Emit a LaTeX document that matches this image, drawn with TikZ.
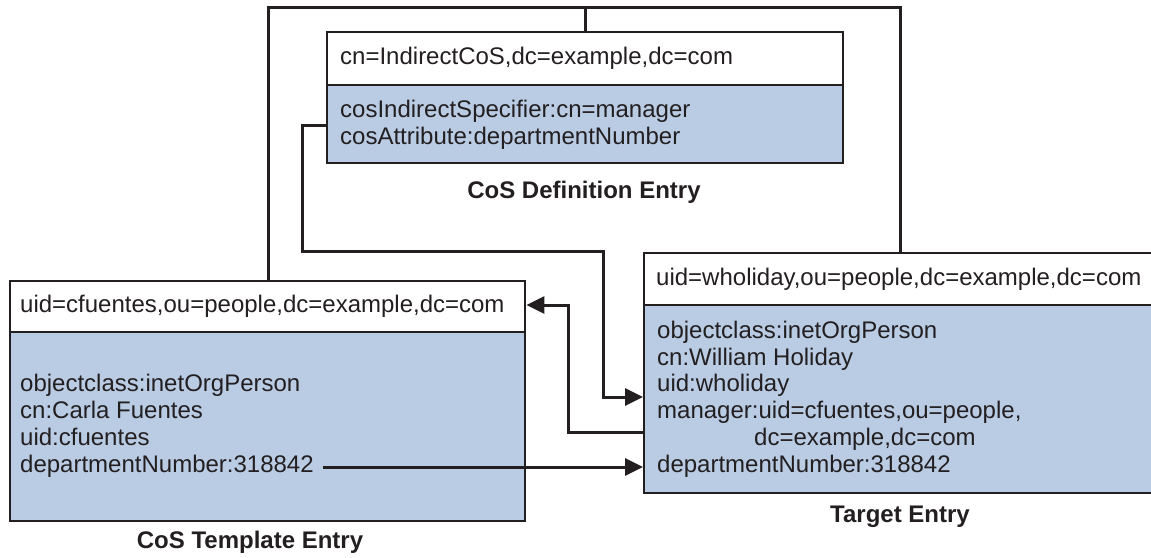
\documentclass[tikz,border=0pt]{standalone}
\usepackage{fontspec}
\setmainfont{Liberation Sans}
\usetikzlibrary{arrows.meta}
\definecolor{cosblue}{RGB}{185,204,228}
\definecolor{ink}{RGB}{35,31,32}
\begin{document}
\begin{tikzpicture}[x=1pt,y=-1pt,
  boxpart/.style={draw=ink, line width=2.4pt, rectangle, inner sep=0pt, anchor=north west},
  hdrbox/.style={boxpart, fill=white},
  bodybox/.style={boxpart, fill=cosblue},
  txt/.style={anchor=base west, inner sep=0pt, text=ink, font=\fontsize{24}{26.8}\selectfont},
  lbl/.style={anchor=center, inner sep=0pt, text=ink, font=\fontsize{24}{28}\selectfont\bfseries},
  conn/.style={draw=ink, line width=3pt},
  arr/.style={conn, -{Triangle[length=18pt,width=17pt]}}
]
\useasboundingbox (0,0) rectangle (1151,557);

% CoS Definition Entry
\node[hdrbox, minimum width=516pt, minimum height=53pt] (defh) at (326,31) {};
\node[bodybox, minimum width=516pt, minimum height=78pt] (defb) at (326,84) {};
\node[txt] (defht) at (340,64) {cn=IndirectCoS,dc=example,dc=com};
\node[txt] (defb1) at (340,117) {cosIndirectSpecifier:cn=manager};
\node[txt] (defb2) at (340,144) {cosAttribute:departmentNumber};
\node[lbl] (deflbl) at (584,192) {CoS Definition Entry};

% CoS Template Entry
\node[hdrbox, minimum width=515pt, minimum height=51pt] (tplh) at (9,280) {};
\node[bodybox, minimum width=515pt, minimum height=189pt] (tplb) at (9,331) {};
\node[txt] (tplht) at (20,312) {uid=cfuentes,ou=people,dc=example,dc=com};
\node[txt] (tpl1) at (20,391) {objectclass:inetOrgPerson};
\node[txt] (tpl2) at (20,418) {cn:Carla Fuentes};
\node[txt] (tpl3) at (20,445) {uid:cfuentes};
\node[txt] (tpl4) at (20,472) {departmentNumber:318842};
\node[lbl] (tpllbl) at (250,542) {CoS Template Entry};

% Target Entry
\node[hdrbox, minimum width=515pt, minimum height=52pt] (tgth) at (643,252) {};
\node[bodybox, minimum width=515pt, minimum height=188pt] (tgtb) at (643,304) {};
\node[txt] (tgtht) at (656,285) {uid=wholiday,ou=people,dc=example,dc=com};
\node[txt] (tgt1) at (657,338) {objectclass:inetOrgPerson};
\node[txt] (tgt2) at (657,365) {cn:William Holiday};
\node[txt] (tgt3) at (657,391) {uid:wholiday};
\node[txt] (tgt4) at (657,418) {manager:uid=cfuentes,ou=people,};
\node[txt] (tgt5) at (754,445) {dc=example,dc=com};
\node[txt] (tgt6) at (657,472) {departmentNumber:318842};
\node[lbl] (tgtlbl) at (900,517) {Target Entry};

% bend points
\coordinate (ot1) at (268,7);
\coordinate (ot2) at (900,7);
\coordinate (dc1) at (302,125);
\coordinate (dc2) at (603,251);
\coordinate (dc3) at (603,397);
\coordinate (mg1) at (568,432);
\coordinate (mg2) at (568,305);
\coordinate (dp1) at (323,467);

% outer loop from template to target
\draw[conn] (tplh.north -| ot1) -- (ot1) -- (ot2) -- (tgth.north -| ot2);
\draw[conn] (defh.north |- ot1) -- (defh.north);
% definition to target
\draw[arr] (defb.west |- dc1) -- (dc1) |- (dc2) -- (dc3) -- (tgtb.west |- dc3);
% manager to template
\draw[arr] (tgtb.west |- mg1) -- (mg1) -- (mg2) -- (tplh.east |- mg2);
% department number
\draw[arr] (dp1) -- (tgtb.west |- dp1);
\end{tikzpicture}
\end{document}
